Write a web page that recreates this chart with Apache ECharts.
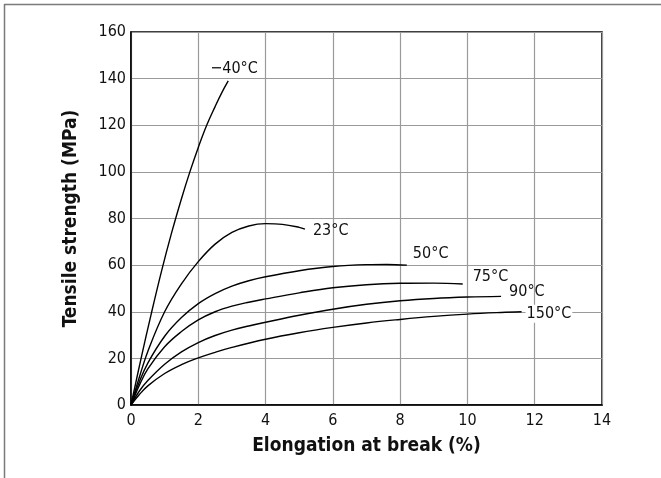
<!DOCTYPE html>
<html>
<head>
<meta charset="utf-8">
<script src="https://cdn.jsdelivr.net/npm/echarts@6/dist/echarts.min.js"></script>
<style>
  html, body { margin: 0; padding: 0; background: #fff; }
  #chart { width: 661px; height: 478px; }
</style>
</head>
<body>
<div id="chart"></div>
<script>
// Tensile strength vs. elongation at break, one curve per test temperature
const xTicks = [0, 2, 4, 6, 8, 10, 12, 14];
const yTicks = [0, 20, 40, 60, 80, 100, 120, 140, 160];

const temps = ['\u221240\u00b0C', '23\u00b0C', '50\u00b0C', '75\u00b0C', '90\u00b0C', '150\u00b0C'];

// [elongation %, tensile MPa]
const minus40 = [[0,0],[0.3,20],[0.6,39],[0.9,57],[1.2,73.5],[1.5,88.5],[1.75,100],[2.0,110.5],[2.25,120],[2.5,128],[2.7,134],[2.89,139]];
const t23  = [[0,0],[0.25,12],[0.5,23],[1.0,40],[1.5,52],[2.0,61.5],[2.5,69],[3.0,74],[3.5,76.8],[4.0,77.8],[4.5,77.5],[5.0,76.2],[5.17,75.4]];
const t50  = [[0,0],[0.25,10],[0.5,18],[1.0,29.5],[1.5,37.5],[2.0,43.5],[2.5,47.8],[3.0,51],[3.5,53.3],[4.0,55],[5.0,57.6],[6.0,59.4],[7.0,60.2],[7.6,60.3],[8.2,60.0]];
const t75  = [[0,0],[0.25,8.5],[0.5,15.5],[1.0,25],[1.5,31.5],[2.0,36.5],[2.5,40],[3.0,42.4],[3.5,44.1],[4.0,45.5],[5.0,48.1],[6.0,50.3],[7.0,51.6],[8.0,52.2],[9.0,52.3],[9.86,51.9]];
const t90  = [[0,0],[0.25,6],[0.5,10.5],[1.0,17.5],[1.5,22.8],[2.0,26.8],[2.5,29.8],[3.0,32.1],[3.5,33.9],[4.0,35.5],[5.0,38.5],[6.0,41.1],[7.0,43.2],[8.0,44.7],[9.0,45.7],[10.0,46.3],[11.0,46.6]];
const t150 = [[0,0],[0.25,4.5],[0.5,8.2],[1.0,13.5],[1.5,17.3],[2.0,20.2],[2.5,22.6],[3.0,24.7],[4.0,28.2],[5.0,31.0],[6.0,33.3],[7.0,35.2],[8.0,36.7],[9.0,38.0],[10.0,39.0],[11.0,39.7],[11.61,40.0]];

const curveData = [minus40, t23, t50, t75, t90, t150];
// label offsets relative to each curve's end point
const labelOffsets = [[-26, -12], [0, 2], [-2, -11], [2, -7], [0, -5], [-4, 2]];

const FONT = "'DejaVu Sans Condensed', 'Liberation Sans Narrow', sans-serif";

const chart = echarts.init(document.getElementById('chart'), null, { renderer: 'canvas' });

const series = curveData.map((d, i) => ({
  type: 'line',
  data: d,
  smooth: 0.4,
  showSymbol: false,
  symbol: 'none',
  lineStyle: { color: '#000', width: 1.4 },
  silent: true,
  z: 3,
  endLabel: {
    show: true,
    formatter: temps[i],
    offset: labelOffsets[i],
    color: '#111',
    fontFamily: FONT,
    fontSize: 16,
    backgroundColor: i === 5 ? '#fff' : 'transparent',
    padding: i === 5 ? [1, 1] : 0
  }
}));

chart.setOption({
  animation: false,
  backgroundColor: '#fff',
  grid: {
    left: 131, right: 59, top: 32, bottom: 73,
    show: true, borderColor: '#000', borderWidth: 1.5
  },
  xAxis: {
    type: 'value',
    min: xTicks[0], max: xTicks[xTicks.length - 1], interval: 2,
    name: 'Elongation at break (%)',
    nameLocation: 'middle',
    nameGap: 32,
    nameTextStyle: { fontFamily: FONT, fontWeight: 'bold', fontSize: 19, color: '#111' },
    axisLine: { show: true, lineStyle: { color: '#000', width: 1.5 } },
    axisTick: { show: false },
    axisLabel: { fontFamily: FONT, fontSize: 16, color: '#111', margin: 8 },
    splitLine: { show: true, lineStyle: { color: '#9a9a9a', width: 1.2 } }
  },
  yAxis: {
    type: 'value',
    min: yTicks[0], max: yTicks[yTicks.length - 1], interval: 20,
    name: 'Tensile strength (MPa)',
    nameLocation: 'middle',
    nameGap: 50,
    nameTextStyle: { fontFamily: FONT, fontWeight: 'bold', fontSize: 19, color: '#111' },
    axisLine: { show: true, lineStyle: { color: '#000', width: 1.5 } },
    axisTick: { show: false },
    axisLabel: { fontFamily: FONT, fontSize: 16, color: '#111', margin: 5 },
    splitLine: { show: true, lineStyle: { color: '#9a9a9a', width: 1.2 } }
  },
  graphic: [
    // frame: top and left rules
    { type: 'line', shape: { x1: 4, y1: 4.5, x2: 661, y2: 4.5 }, style: { stroke: '#7a7a7a', lineWidth: 1.5 }, silent: true },
    { type: 'line', shape: { x1: 4.5, y1: 4, x2: 4.5, y2: 478 }, style: { stroke: '#7a7a7a', lineWidth: 1.5 }, silent: true }
  ],
  series: series
});
</script>
</body>
</html>
